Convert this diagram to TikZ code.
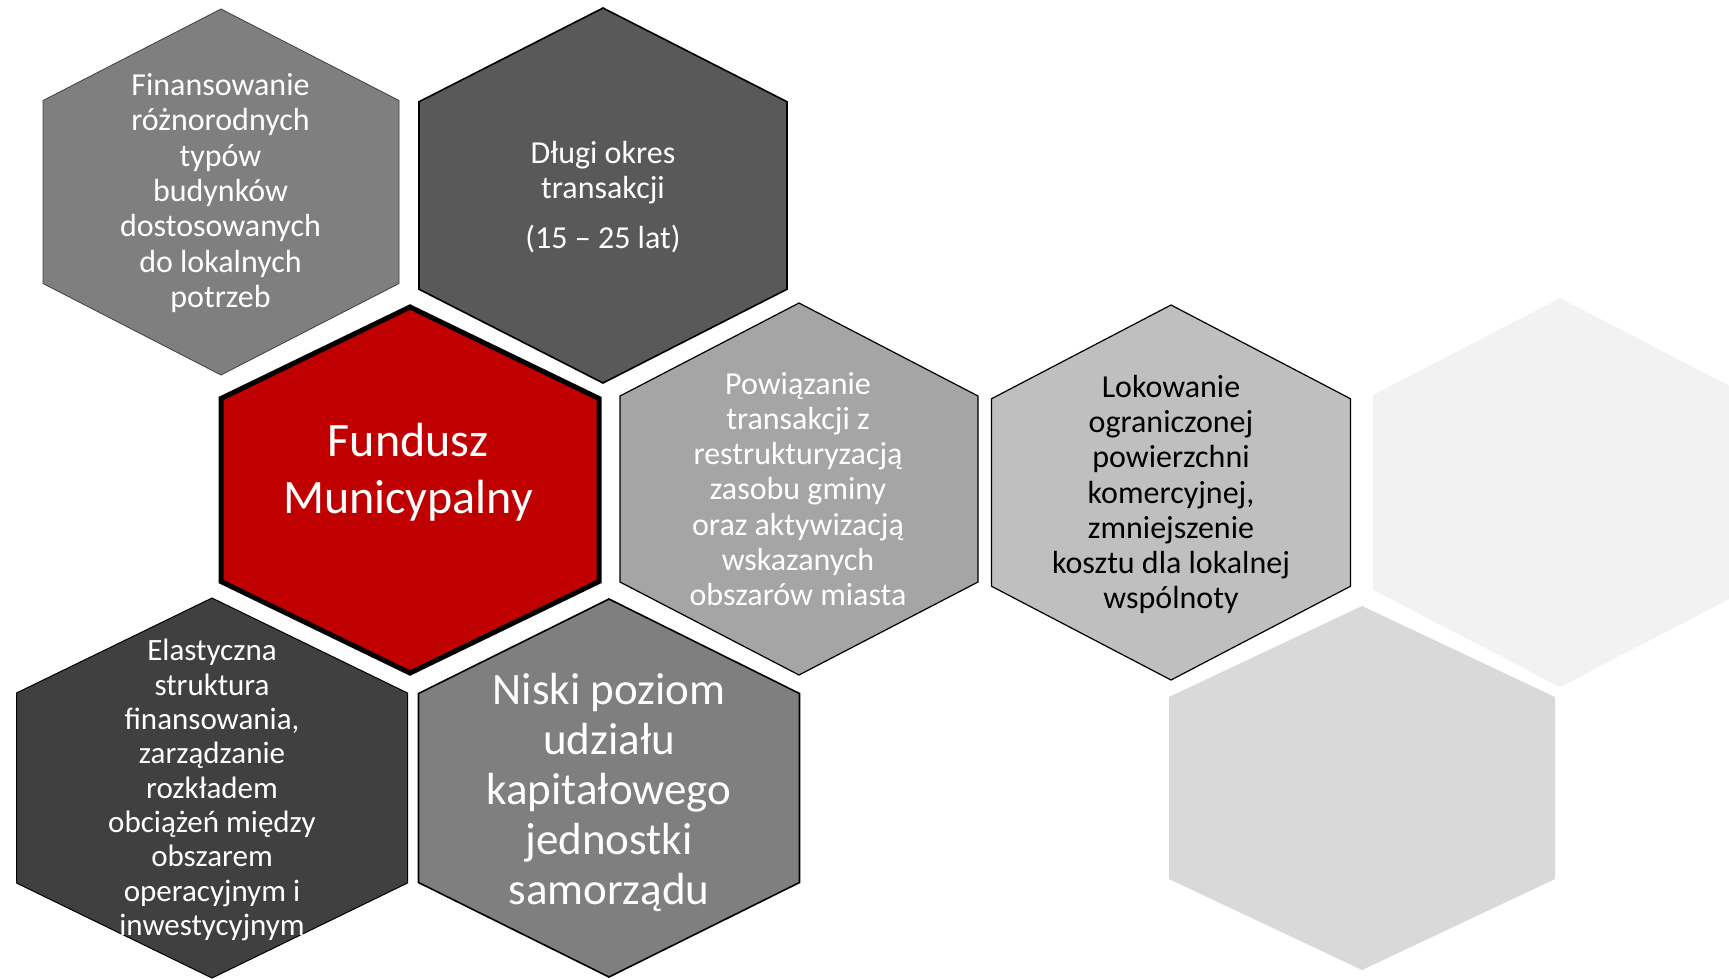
\documentclass[tikz,border=0pt]{standalone}
\usepackage{fontspec}
\setmainfont{Carlito}
\definecolor{gA}{HTML}{7F7F7F}
\definecolor{gB}{HTML}{595959}
\definecolor{gC}{HTML}{A5A5A5}
\definecolor{gD}{HTML}{BFBFBF}
\definecolor{gE}{HTML}{F2F2F2}
\definecolor{gF}{HTML}{D9D9D9}
\definecolor{gG}{HTML}{404040}
\definecolor{redH}{HTML}{C00000}
\newcommand\hexat[4]{({#1},{#2-#4}) -- ({#1+#3},{#2-#4/2}) -- ({#1+#3},{#2+#4/2}) -- ({#1},{#2+#4}) -- ({#1-#3},{#2+#4/2}) -- ({#1-#3},{#2-#4/2}) -- cycle}
\tikzset{
  txt/.style={align=center, text=white, font=\fontsize{32}{35.3}\selectfont},
  thinhex/.style={draw=black, line width=1.2pt, line join=miter},
}
\begin{document}
\begin{tikzpicture}[x=1pt,y=-1pt]
\useasboundingbox (0,0) rectangle (1729,978);
\fill[white] (0,0) rectangle (1729,978);
% background hexes
\fill[gE] \hexat{1560}{492.5}{187}{194.5};
\fill[gF] \hexat{1362}{788}{193}{182};
% hexes
\filldraw[fill=gA, draw=gG, line width=0.8pt] \hexat{221}{192}{178}{183};
\filldraw[fill=gB, thinhex, line width=1.6pt] \hexat{603}{195.5}{184}{187.5};
\filldraw[fill=gC, thinhex] \hexat{799}{489}{179}{186};
\filldraw[fill=gD, thinhex] \hexat{1171}{492.5}{179.5}{187.5};
\filldraw[fill=gG, thinhex, line width=1pt] \hexat{212}{788}{195.5}{190};
\filldraw[fill=gA, thinhex, line width=1.6pt] \hexat{609}{788}{190.5}{189};
\filldraw[fill=redH, draw=black, line width=5pt] \hexat{410}{490}{189}{183};
% texts
\node[txt] (fin) at (220.5,193) {Finansowanie\\różnorodnych\\typów\\budynków\\dostosowanych\\do lokalnych\\potrzeb};
\node[txt] (dlugi) at (603,197) {Długi okres\\transakcji\\[15pt](15 – 25 lat)};
\node[txt, font=\fontsize{48}{57}\selectfont] (fund) at (408,472) {Fundusz\\Municypalny};
\node[txt] (pow) at (798,489) {Powiązanie\\transakcji z\\restrukturyzacją\\zasobu gminy\\oraz aktywizacją\\wskazanych\\obszarów miasta};
\node[txt, text=black] (lok) at (1171,494.5) {Lokowanie\\ograniczonej\\powierzchni\\komercyjnej,\\zmniejszenie\\kosztu dla lokalnej\\wspólnoty};
\node[txt, font=\fontsize{31}{34.3}\selectfont] (ela) at (212,790) {Elastyczna\\struktura\\finansowania,\\zarządzanie\\rozkładem\\obciążeń między\\obszarem\\operacyjnym i\\inwestycyjnym};
\node[txt, font=\fontsize{45}{50}\selectfont] (nis) at (609,792) {Niski poziom\\udziału\\kapitałowego\\jednostki\\samorządu};
\end{tikzpicture}
\end{document}
